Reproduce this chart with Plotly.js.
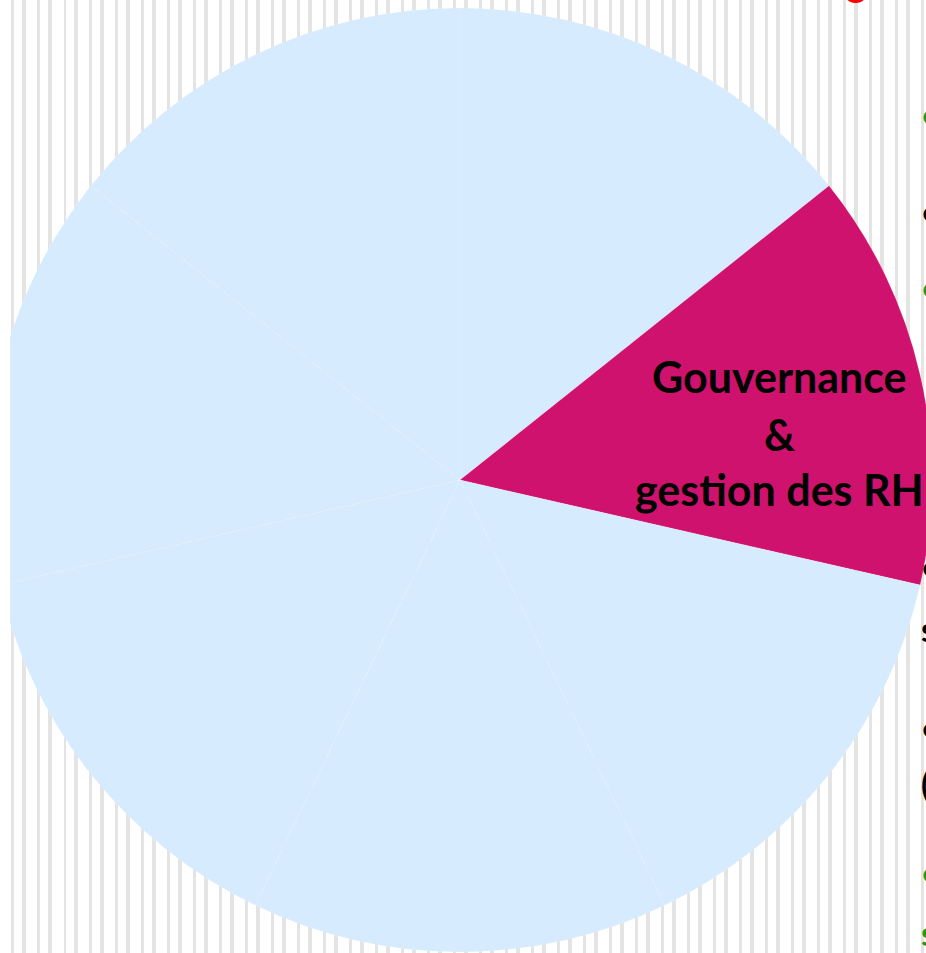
<!DOCTYPE html>
<html>
<head>
<meta charset="utf-8">
<script src="https://cdn.plot.ly/plotly-3.0.1.min.js"></script>
<style>
  html, body { margin: 0; padding: 0; background: #ffffff; overflow: hidden; width: 926px; height: 953px; }
  #clip {
    position: absolute; left: 10px; top: 0; width: 916px; height: 953px; overflow: hidden;
    background: repeating-linear-gradient(to right,
      #ffffff 0px, #ffffff 1.5px,
      #e4e4e4 1.5px, #e4e4e4 3.7px,
      #ffffff 3.7px, #ffffff 12.4px,
      #e4e4e4 12.4px, #e4e4e4 16px,
      #ffffff 16px, #ffffff 26px);
  }
  #chart { position: absolute; left: -22px; top: 0; width: 944px; height: 953px; }
</style>
</head>
<body>
<div id="clip"><div id="chart"></div></div>
<script>
// ---- data ----
const labels = ["Secteur 1", "Gouvernance<br>&<br>gestion des RH", "Secteur 3", "Secteur 4", "Secteur 5", "Secteur 6", "Secteur 7"];
const values = [1, 1, 1, 1, 1, 1, 1];
const highlightIndex = 1;
const sideBullets = ["•", "•", "•", "•", "s", "•", "(", "•", "s"];
const sideColors = ["#1f9a1f", "#000000", "#1f9a1f", "#000000", "#000000", "#000000", "#000000", "#1f9a1f", "#1f9a1f"];
const sideY = [115, 212, 288, 566, 628, 727, 783, 872, 932];

// ---- layout helpers ----
const W = 944, H = 953, LEFT = -12;
const px = X => (X - LEFT) / W;
const py = Y => 1 - Y / H;

const BLUE = "#d6ebfd", MAGENTA = "#cf126d";
const colors = values.map((v, i) => i === highlightIndex ? MAGENTA : BLUE);

const trace = {
  type: "pie",
  labels: labels,
  values: values,
  sort: false,
  direction: "clockwise",
  rotation: 0,
  marker: { colors: colors, line: { color: "rgba(255,255,255,0.22)", width: 0.6 } },
  textinfo: "none",
  hoverinfo: "none",
  showlegend: false,
  domain: { x: [0, 1], y: [1 / H, 945 / H] }
};

const labelLines = labels[highlightIndex].split("<br>");
const labelY = [376, 434, 489];
const annotations = labelLines.map((t, i) => ({
  text: t, xref: "paper", yref: "paper",
  x: px(779), y: py(labelY[i]), xanchor: "center", yanchor: "middle",
  showarrow: false,
  font: { family: "Lato, 'Open Sans', sans-serif", size: 43, color: "#000000", weight: "bold" }
}));

sideBullets.forEach((t, i) => {
  annotations.push({
    text: "<b>" + t + "</b>", xref: "paper", yref: "paper",
    x: px(919), y: py(sideY[i]), xanchor: "left", yanchor: "middle",
    showarrow: false,
    font: { family: "Lato, sans-serif", size: 34, color: sideColors[i] }
  });
});
// fragment of the red title at the very top
annotations.push({
  text: "<b>o</b>", xref: "paper", yref: "paper",
  x: px(855), y: py(2), xanchor: "center", yanchor: "bottom",
  showarrow: false, yshift: -12,
  font: { family: "Lato, sans-serif", size: 44, color: "#ff0000" }
});

const layout = {
  width: W, height: H,
  margin: { l: 0, r: 0, t: 0, b: 0, pad: 0 },
  paper_bgcolor: "rgba(0,0,0,0)",
  plot_bgcolor: "rgba(0,0,0,0)",
  showlegend: false,
  annotations: annotations
};

Plotly.newPlot("chart", [trace], layout, { displayModeBar: false, staticPlot: true });
</script>
</body>
</html>
